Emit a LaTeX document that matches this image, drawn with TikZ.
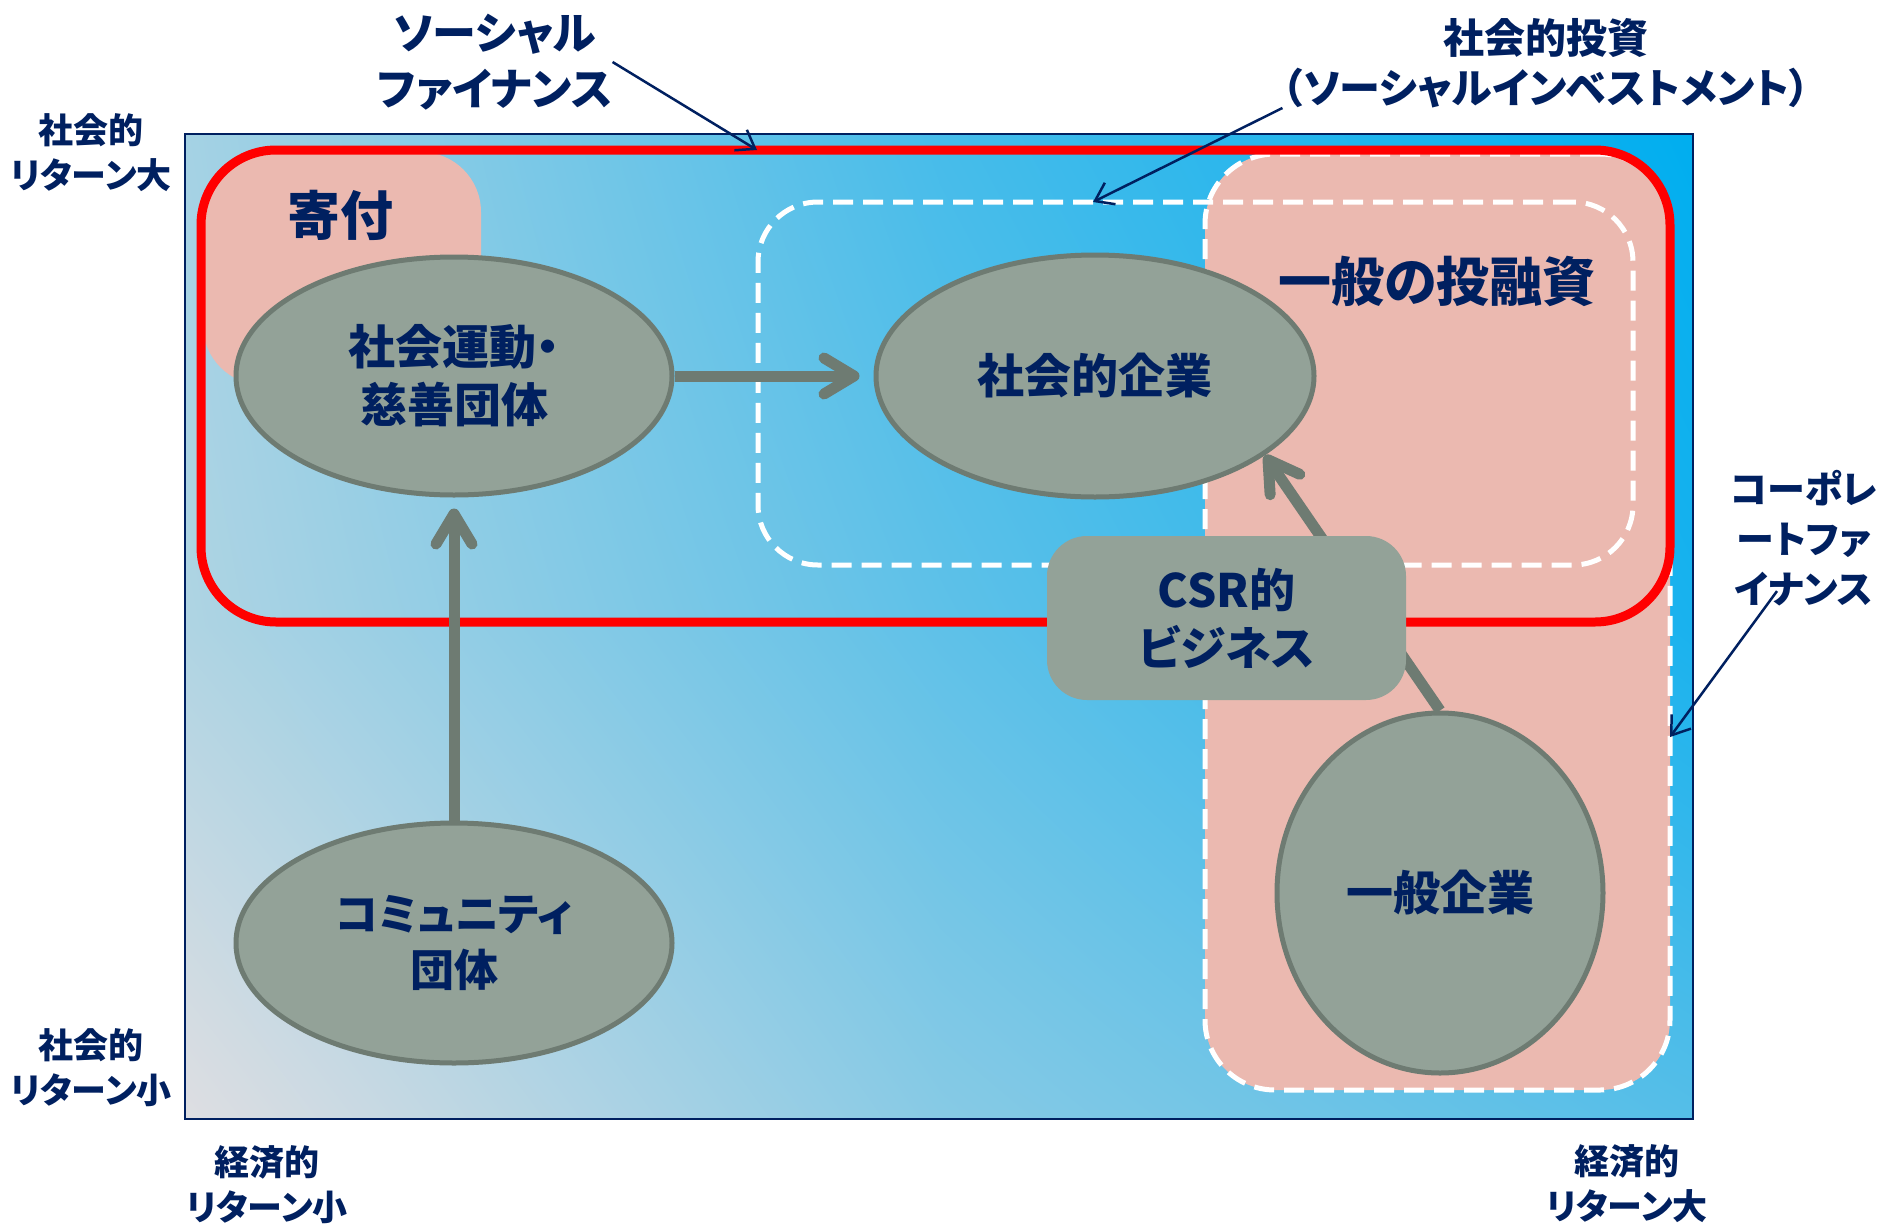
\documentclass[tikz,border=0pt]{standalone}
\usepackage{fontspec}
\setmainfont[RawFeature=+palt]{Noto Sans CJK JP}
\usetikzlibrary{arrows.meta,shapes.geometric,shadings,positioning}

\definecolor{textblue}{RGB}{0,32,96}
\definecolor{blobfill}{RGB}{147,162,152}
\definecolor{blobline}{RGB}{110,123,114}
\definecolor{giftpink}{RGB}{235,185,176}
\definecolor{fieldtl}{RGB}{165,210,228}
\definecolor{fieldtm}{RGB}{70,188,234}
\definecolor{fieldtr}{RGB}{0,174,239}
\definecolor{fieldml}{RGB}{175,212,227}
\definecolor{fieldmm}{RGB}{95,193,232}
\definecolor{fieldmr}{RGB}{25,178,238}
\definecolor{fieldbl}{RGB}{222,222,226}
\definecolor{fieldbm}{RGB}{135,202,229}
\definecolor{fieldbr}{RGB}{85,190,232}

\tikzset{
  title/.style={text=textblue, font=\bfseries\fontsize{53}{60}\selectfont, inner sep=0pt},
  tag/.style={text=textblue, font=\bfseries\fontsize{35}{45}\selectfont, align=center, inner sep=0pt},
  blob/.style={ellipse, draw=blobline, line width=5pt, fill=blobfill, text=textblue,
    font=\bfseries\fontsize{47}{58}\selectfont, align=center, inner sep=0pt},
  region/.style={rectangle, inner sep=0pt, outer sep=0pt, rounded corners=60pt},
  dashline/.style={draw=white, line width=5pt, dash pattern=on 20pt off 10pt},
  flow/.style={draw=blobline, line width=11pt, -{Straight Barb[length=30pt,width=36pt,round]}},
  pointer/.style={draw=textblue, line width=2.5pt, -{Straight Barb[length=17pt,width=24pt]}}
}

\begin{document}
\begin{tikzpicture}[x=1pt,y=-1pt]
    \useasboundingbox (0,0) rectangle (1883,1232);
    \shade[upper left=fieldtl, upper right=fieldtm, lower left=fieldml, lower right=fieldmm] (185,134) rectangle (939.5,626.5);
    \shade[upper left=fieldtm, upper right=fieldtr, lower left=fieldmm, lower right=fieldmr] (939,134) rectangle (1693,626.5);
    \shade[upper left=fieldml, upper right=fieldmm, lower left=fieldbl, lower right=fieldbm] (185,626) rectangle (939.5,1119);
    \shade[upper left=fieldmm, upper right=fieldmr, lower left=fieldbm, lower right=fieldbr] (939,626) rectangle (1693,1119);
    \draw[textblue, line width=2pt] (185,134) rectangle (1693,1119);

    \node[region, fill=giftpink, minimum width=278pt, minimum height=233pt] (gift) at (342,268.5) {};
    \node[region, fill=giftpink, dashline, rounded corners=70pt, minimum width=465pt, minimum height=936pt] (inv) at (1437.5,622) {};
    \node[region, draw=red, line width=9pt, rounded corners=75pt, minimum width=1469pt, minimum height=472pt] (sfin) at (935.5,386) {};
    \node[region, dashline, minimum width=875pt, minimum height=363pt] (socinv) at (1195.5,383.5) {};

    \node[title] (giftlab) at (340,215) {寄付};
    \node[title, font=\bfseries\fontsize{53}{60}\selectfont] (invlab) at (1437,281) {一般の投融資};

    \node[blob, minimum width=436pt, minimum height=238pt] (soc) at (454,376) {社会運動・\\慈善団体};
    \node[blob, font=\bfseries\fontsize{44}{56}\selectfont, minimum width=436pt, minimum height=240pt] (comm) at (454,943) {コミュニティ\\団体};
    \node[blob, minimum width=438pt, minimum height=242pt] (socent) at (1095,376) {社会的企業};
    \node[blob, minimum width=326pt, minimum height=360pt] (gen) at (1440,893) {一般企業};

    \draw[flow, shorten >=14pt] (soc) -- (socent);
    \draw[flow, shorten >=11pt] (comm) -- (soc);
    \draw[flow] (gen.north) -- (socent.-25);

    \node[region, fill=blobfill, rounded corners=40pt, minimum width=359pt, minimum height=164pt, text=textblue,
      font=\bfseries\fontsize{46}{58}\selectfont, align=center] (csr) at (1226.5,618) {CSR的\\ビジネス};

    \node[tag] (srhigh) at (91,153) {社会的\\リターン大};
    \node[tag] (srlow) at (91,1068) {社会的\\リターン小};
    \node[tag] (erlow) at (267,1185) {経済的\\リターン小};
    \node[tag] (erhigh) at (1627,1184) {経済的\\リターン大};

    \node[tag, font=\bfseries\fontsize{44}{56}\selectfont] (sfinlab) at (495,62) {ソーシャル\\ファイナンス};
    \node[tag, font=\bfseries\fontsize{41}{50}\selectfont] (siflab) at (1546,63) {社会的投資\\（ソーシャルインベストメント）};
    \node[tag, font=\bfseries\fontsize{38}{50}\selectfont] (cflab) at (1804,538) {コーポレ\\ートファ\\イナンス};

    \draw[pointer] (sfinlab.east) -- ([xshift=-178.5pt]sfin.north);
    \draw[pointer] (siflab.south west) -- ([xshift=-102.5pt]socinv.north);
    \draw[pointer] ([xshift=-27pt,yshift=15pt]cflab.south) -- ([yshift=-115pt]inv.east);
\end{tikzpicture}
\end{document}
